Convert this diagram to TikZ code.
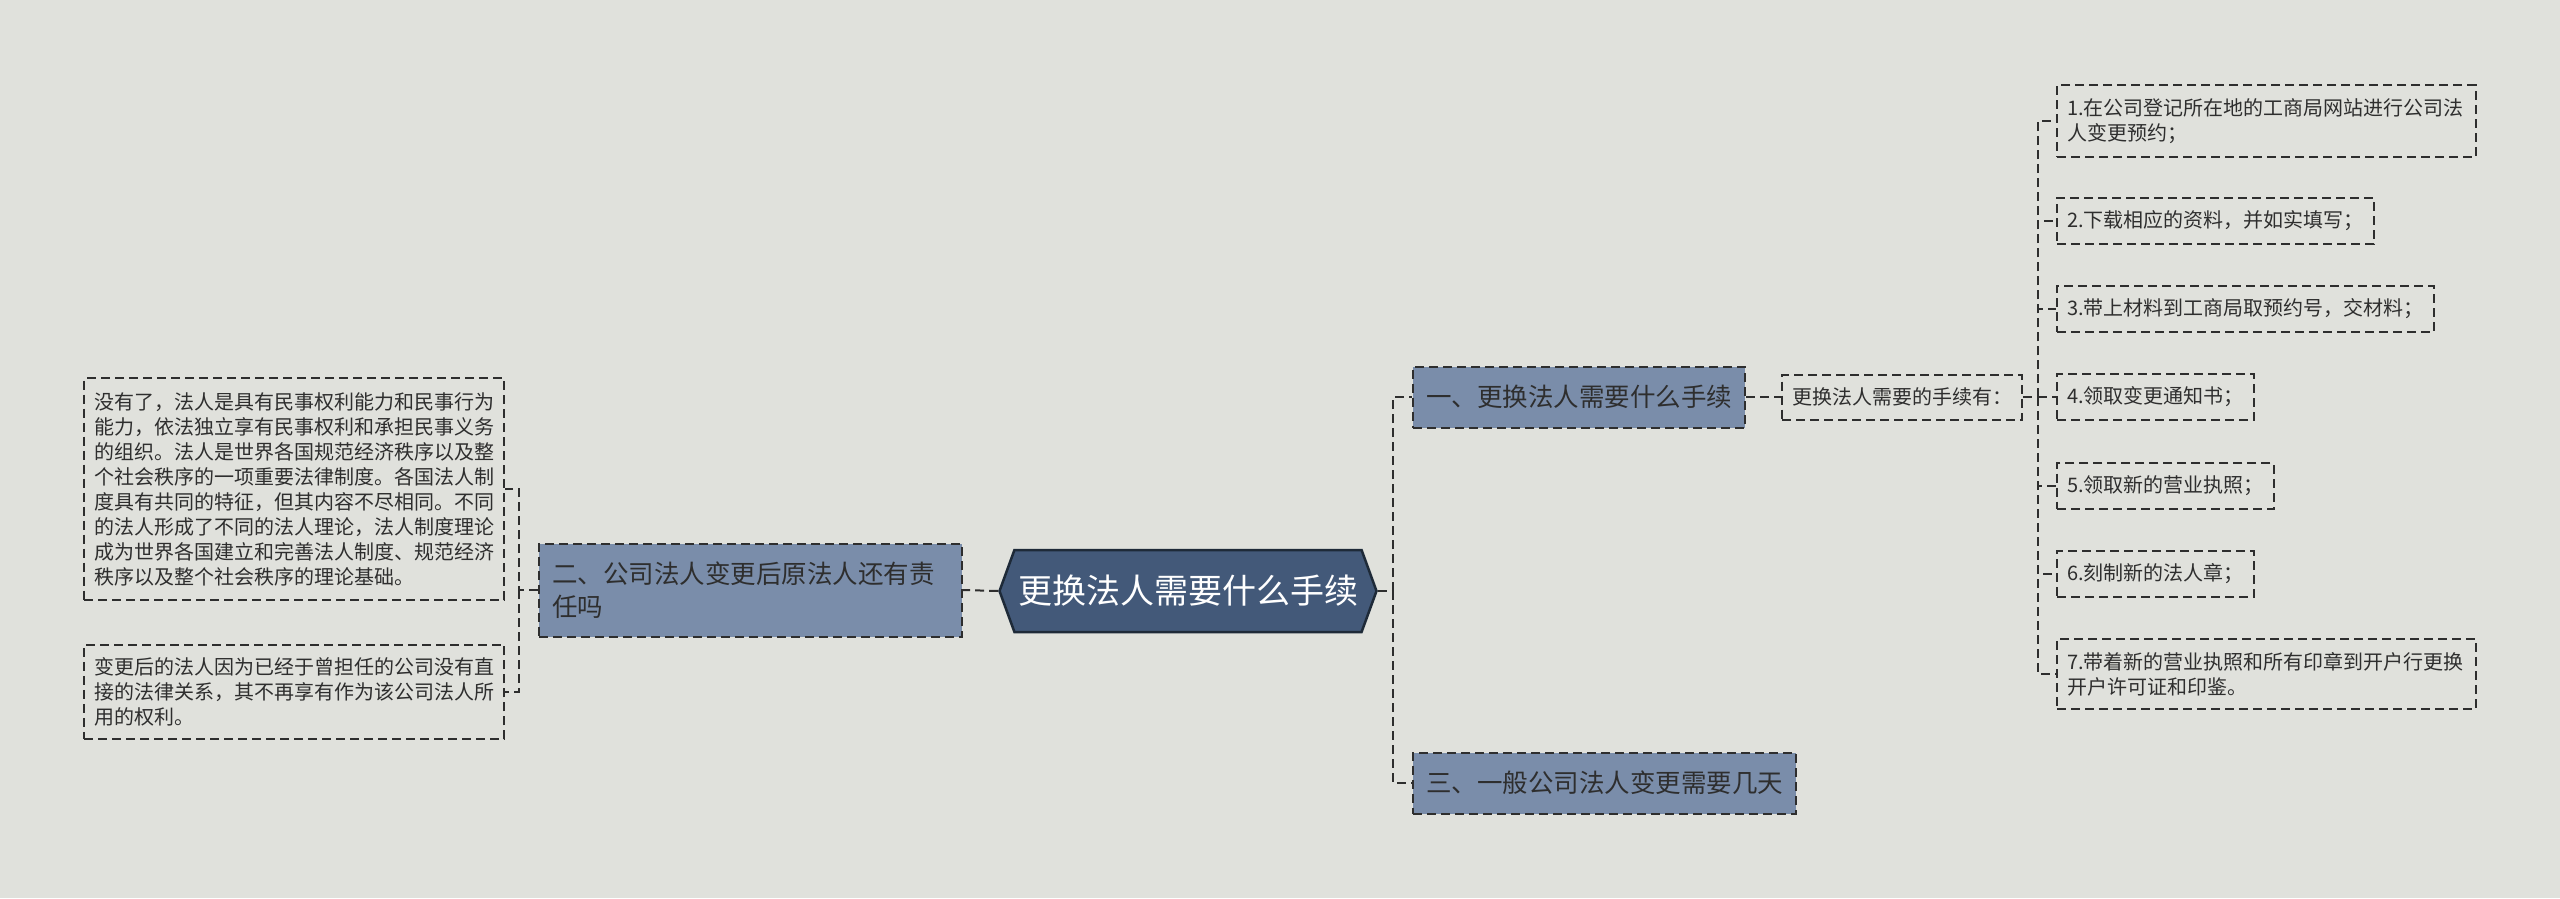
\documentclass[tikz,border=0pt]{standalone}
\usepackage{fontspec}
\newfontfamily\cjk{Noto Sans CJK SC}
\usepackage{xcolor}
\usetikzlibrary{shapes.symbols}

\definecolor{bgcol}{HTML}{E0E1DC}
\definecolor{rootcol}{HTML}{435979}
\definecolor{rootline}{HTML}{1E2A38}
\definecolor{branchcol}{HTML}{7A8DAA}
\definecolor{inkcol}{HTML}{2E2E2E}

\begin{document}
\begin{tikzpicture}[x=1pt, y=-1pt,
    link/.style={draw=inkcol, line width=2pt, dash pattern=on 9pt off 5pt},
    topic/.style={shape=signal, signal to=west and east, signal pointer angle=140,
        fill=rootcol, draw=rootline, line width=2.5pt, text=white,
        minimum width=377pt, minimum height=82pt, inner sep=0pt,
        font=\cjk\fontsize{34}{40}\selectfont},
    branch/.style={link, fill=branchcol, text=inkcol, align=left, anchor=west,
        inner xsep=13pt, minimum height=61pt, font=\cjk\fontsize{25.5}{33}\selectfont},
    leaf/.style={link, text=inkcol, align=left, inner xsep=10pt, inner ysep=13pt,
        minimum height=45pt, font=\cjk\fontsize{20}{25}\selectfont}]
    % 1. Nền
    \fill[bgcol] (0,0) rectangle (2560,898);
    \useasboundingbox (0,0) rectangle (2560,898);

    % 2. Chủ đề chính
    \node[topic] (root) at (1188,591) {更换法人需要什么手续};

    % 3. Nhánh trái
    \node[branch, anchor=east, text width=397pt, minimum height=93pt] (q2) at (963,590)
        {二、公司法人变更后原法人还有责\\任吗};
    \node[leaf, inner ysep=14pt] (l1) at (294,489) {没有了，法人是具有民事权利能力和民事行为\\
        能力，依法独立享有民事权利和承担民事义务\\
        的组织。法人是世界各国规范经济秩序以及整\\
        个社会秩序的一项重要法律制度。各国法人制\\
        度具有共同的特征，但其内容不尽相同。不同\\
        的法人形成了不同的法人理论，法人制度理论\\
        成为世界各国建立和完善法人制度、规范经济\\
        秩序以及整个社会秩序的理论基础。};
    \node[leaf] (l2) at (294,692) {变更后的法人因为已经于曾担任的公司没有直\\
        接的法律关系，其不再享有作为该公司法人所\\
        用的权利。};
    \coordinate (lj) at (519,590);
    \draw[link] (root.west) -- (q2.east);
    \draw[link] (q2.west) -- (lj) |- (l1.east);
    \draw[link] (lj) |- (l2.east);

    % 4. Nhánh phải
    \node[branch] (q1) at (1412,397) {一、更换法人需要什么手续};
    \node[branch] (q3) at (1412,783) {三、一般公司法人变更需要几天};
    \node[leaf, anchor=west] (steps) at (1781,397) {更换法人需要的手续有：};
    \coordinate (rj) at (1393,591);
    \draw[link] (root.east) -- (rj);
    \draw[link] (rj) |- (q1.west);
    \draw[link] (rj) |- (q3.west);
    \draw[link] (q1.east) -- (steps.west);

    % 5. Các bước
    \node[leaf, anchor=west, text width=399pt] (s1) at (2056,121)
        {1.在公司登记所在地的工商局网站进行公司法\\人变更预约；};
    \node[leaf, anchor=west] (s2) at (2056,221) {2.下载相应的资料，并如实填写；};
    \node[leaf, anchor=west] (s3) at (2056,309) {3.带上材料到工商局取预约号，交材料；};
    \node[leaf, anchor=west] (s4) at (2056,397) {4.领取变更通知书；};
    \node[leaf, anchor=west] (s5) at (2056,486) {5.领取新的营业执照；};
    \node[leaf, anchor=west] (s6) at (2056,574) {6.刻制新的法人章；};
    \node[leaf, anchor=west, text width=399pt] (s7) at (2056,674)
        {7.带着新的营业执照和所有印章到开户行更换\\开户许可证和印鉴。};
    \coordinate (sj) at (2038,397);
    \draw[link] (steps.east) -- (sj);
    \foreach \i in {1,...,7} {
        \draw[link] (sj) |- (s\i.west);
    }
\end{tikzpicture}
\end{document}
